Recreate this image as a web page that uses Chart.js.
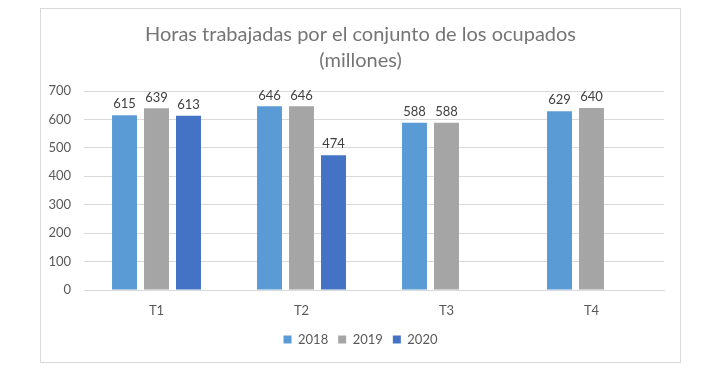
<!DOCTYPE html>
<html><head><meta charset="utf-8">
<script src="https://cdn.jsdelivr.net/npm/chart.js@4"></script>
<style>
html,body{margin:0;padding:0;background:#fff;}
#box{position:absolute;left:40px;top:8px;width:641px;height:355px;border:1px solid #d9d9d9;box-sizing:border-box;background:#fff;}
#c{display:block;}
</style></head><body>
<div id="box"><canvas id="c" width="639" height="353"></canvas></div>
<script>
const categories = ['T1', 'T2', 'T3', 'T4'];
const seriesNames = ['2018', '2019', '2020'];
const values2018 = [615, 646, 588, 629];
const values2019 = [639, 646, 588, 640];
const values2020 = [613, 474, null, null];
const yTicks = [0, 100, 200, 300, 400, 500, 600, 700];
const titleLines = ['Horas trabajadas por el conjunto de los ocupados', '(millones)'];

const FONT = 'Lato, Carlito, Calibri, "Open Sans", sans-serif';

const labelPlugin = {
  id: 'valueLabels',
  afterDatasetsDraw(chart) {
    const ctx = chart.ctx;
    ctx.save();
    ctx.font = '13px ' + FONT;
    ctx.fillStyle = '#404040';
    ctx.textAlign = 'center';
    ctx.textBaseline = 'middle';
    chart.data.datasets.forEach((ds, i) => {
      const meta = chart.getDatasetMeta(i);
      meta.data.forEach((el, j) => {
        const v = ds.data[j];
        if (v === null || v === undefined) return;
        ctx.fillText(String(v), el.x, el.y - 11);
      });
    });
    ctx.restore();
  }
};

new Chart(document.getElementById('c'), {
  type: 'bar',
  data: {
    labels: categories,
    datasets: [
      { label: seriesNames[0], data: values2018, backgroundColor: '#5B9BD5' },
      { label: seriesNames[1], data: values2019, backgroundColor: '#A5A5A5' },
      { label: seriesNames[2], data: values2020, backgroundColor: '#4472C4' }
    ]
  },
  options: {
    responsive: false,
    animation: false,
    devicePixelRatio: 1,
    categoryPercentage: 0.662,
    barPercentage: 0.78,
    layout: { padding: { left: 0, right: 0, top: 0, bottom: 6 } },
    plugins: {
      title: {
        display: true,
        text: titleLines,
        color: '#757575',
        font: { family: FONT, size: 20, weight: 'normal', lineHeight: 1.3 },
        padding: { top: 13, bottom: 17 }
      },
      legend: {
        display: true,
        position: 'bottom',
        labels: {
          boxWidth: 8, boxHeight: 8, color: '#595959',
          font: { family: FONT, size: 13 },
          padding: 10
        }
      },
      tooltip: { enabled: false }
    },
    scales: {
      x: {
        grid: { display: false },
        border: { display: true, color: '#d9d9d9' },
        ticks: { color: '#595959', font: { family: FONT, size: 13 }, padding: 5 },
        afterFit(s) { s.height = 33; }
      },
      y: {
        min: 0, max: 700,
        afterBuildTicks(s) { s.ticks = yTicks.map(v => ({ value: v })); },
        grid: { color: '#d9d9d9', drawTicks: false },
        border: { display: false },
        ticks: { color: '#595959', font: { family: FONT, size: 13 }, padding: 13 },
        afterFit(s) { s.width = 43; }
      },
      yRight: {
        position: 'right',
        min: 0, max: 1,
        grid: { display: false, drawTicks: false },
        border: { display: false },
        ticks: { display: false },
        afterFit(s) { s.width = 16; }
      }
    }
  },
  plugins: [labelPlugin]
});
</script>
</body></html>
